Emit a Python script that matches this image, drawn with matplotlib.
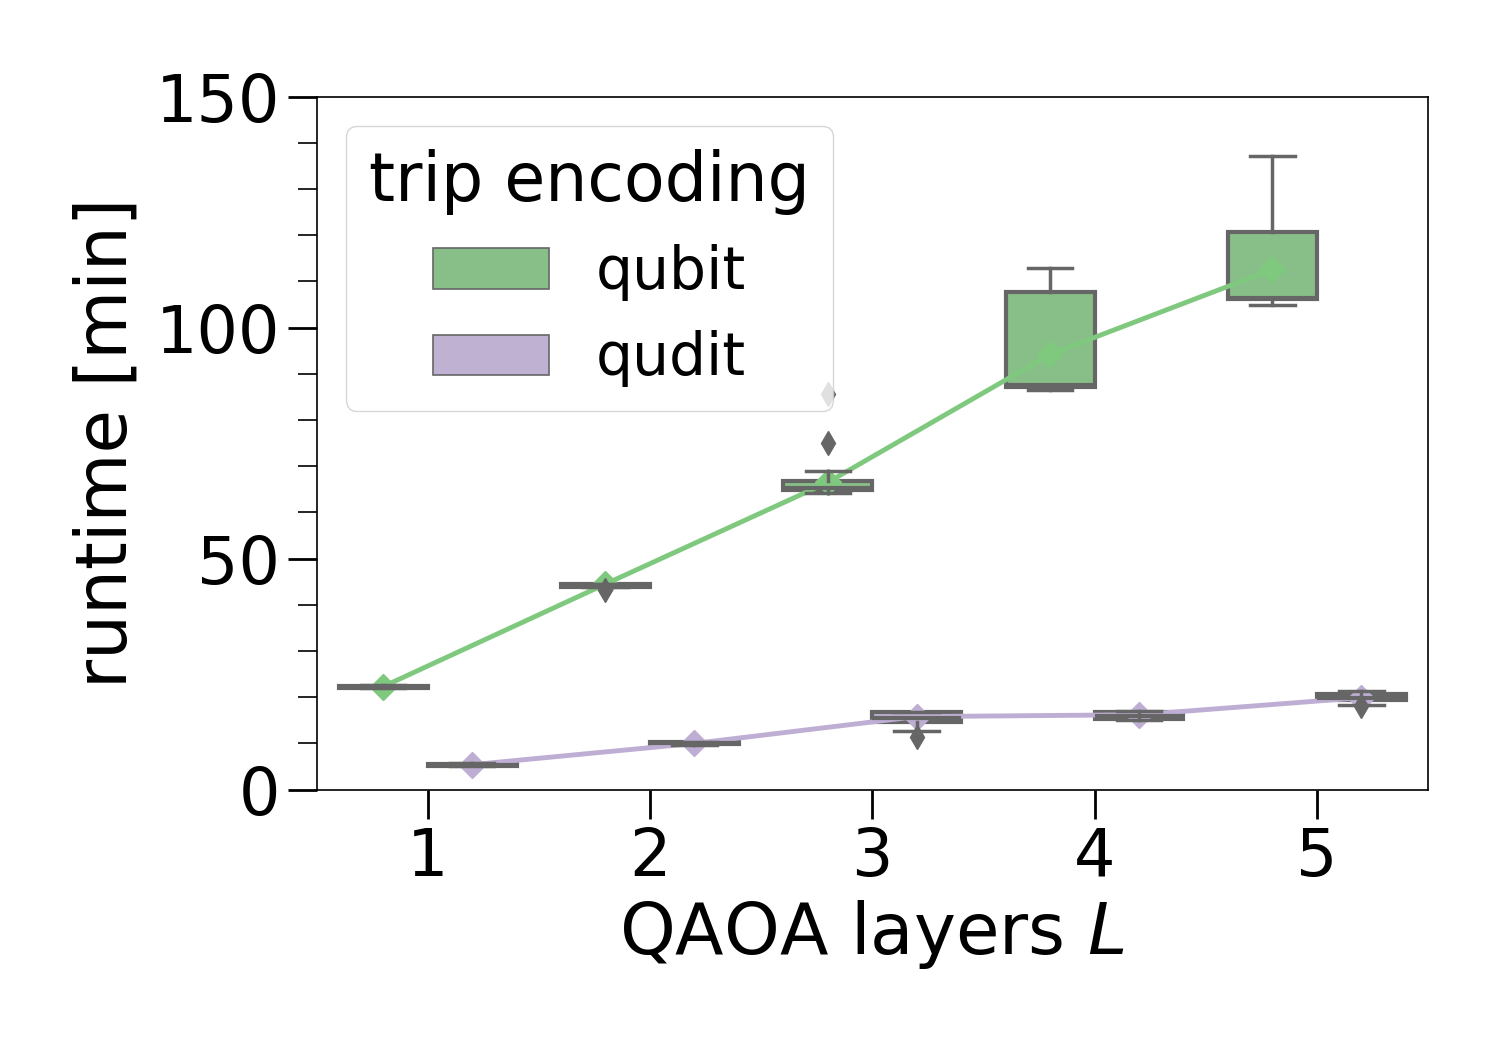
import matplotlib
matplotlib.use("Agg")
import matplotlib.pyplot as plt
from matplotlib.patches import Patch
from matplotlib.ticker import MultipleLocator

# data (runtime in minutes)
layers = [1, 2, 3, 4, 5]
encodings = ["qubit", "qudit"]

qubit_q1 = [22.0, 43.9, 64.9, 87.2, 106.1]
qubit_med = [22.3, 44.2, 65.3, 87.6, 106.3]
qubit_q3 = [22.5, 44.4, 66.9, 107.6, 120.8]
qubit_lo = [22.0, 43.8, 64.3, 86.4, 105.0]
qubit_hi = [22.6, 44.5, 69.0, 113.0, 137.2]
qubit_fliers = [[], [43.1], [75.1, 85.6], [], []]
qubit_mean = [22.3, 44.5, 66.5, 94.2, 112.6]

qudit_q1 = [5.2, 9.8, 14.7, 15.2, 19.3]
qudit_med = [5.4, 10.0, 15.6, 16.0, 19.9]
qudit_q3 = [5.6, 10.2, 16.7, 16.9, 20.8]
qudit_lo = [5.1, 9.7, 12.6, 15.0, 18.4]
qudit_hi = [5.7, 10.3, 16.9, 17.1, 21.4]
qudit_fliers = [[], [], [11.3], [], [18.0]]
qudit_mean = [5.4, 10.0, 15.8, 16.2, 19.9]

line_colors = ["#7fc97f", "#beaed4"]
box_colors = ["#88bf88", "#bfb1d1"]
edge = "#666666"

fig, ax = plt.subplots(figsize=(15, 10.5), dpi=100)
fig.subplots_adjust(left=0.211, right=0.952, top=0.908, bottom=0.248)

series = [
    (qubit_q1, qubit_med, qubit_q3, qubit_lo, qubit_hi, qubit_fliers, qubit_mean),
    (qudit_q1, qudit_med, qudit_q3, qudit_lo, qudit_hi, qudit_fliers, qudit_mean),
]
offsets = [-0.2, 0.2]

for k, (q1, med, q3, lo, hi, fl, mn) in enumerate(series):
    stats = []
    for i in range(len(layers)):
        stats.append(dict(q1=q1[i], med=med[i], q3=q3[i], whislo=lo[i],
                          whishi=hi[i], fliers=fl[i], mean=mn[i]))
    pos = [i + offsets[k] for i in range(len(layers))]
    ax.bxp(stats, positions=pos, widths=0.4, patch_artist=True,
           showmeans=False, manage_ticks=False,
           boxprops=dict(facecolor=box_colors[k], edgecolor=edge, linewidth=3,
                         zorder=1),
           medianprops=dict(color=edge, linewidth=3, zorder=2),
           whiskerprops=dict(color=edge, linewidth=2.5, zorder=2),
           capprops=dict(color=edge, linewidth=2.5, zorder=2),
           flierprops=dict(marker="d", markerfacecolor=edge, markeredgecolor=edge,
                           markersize=12, zorder=2))
    # mean line sits over the box fill but under whiskers / medians
    ax.plot(pos, mn, color=line_colors[k], linewidth=3.5, marker="D",
            markersize=13, zorder=1.5)

ax.set_xlim(-0.5, 4.5)
ax.set_ylim(0, 150)
ax.set_xticks(range(len(layers)))
ax.set_xticklabels([str(l) for l in layers])
ax.yaxis.set_major_locator(MultipleLocator(50))
ax.yaxis.set_minor_locator(MultipleLocator(10))
ax.tick_params(axis="both", which="major", labelsize=47, length=21, width=2, pad=5)
ax.tick_params(axis="y", which="minor", length=14, width=1.2)
for s in ax.spines.values():
    s.set_linewidth(1.2)

ax.set_xlabel("QAOA layers $L$", fontsize=51, labelpad=6)
ax.set_ylabel("runtime [min]", fontsize=51, labelpad=10)

handles = [Patch(facecolor=box_colors[k], edgecolor=edge, linewidth=1.2)
           for k in range(2)]
leg = ax.legend(handles, encodings, title="trip encoding", loc="upper left",
                fontsize=42, title_fontsize=48, framealpha=0.8,
                handlelength=2.0, handleheight=0.7, borderpad=0.4,
                labelspacing=0.5, handletextpad=0.8)
leg.set_zorder(10)

fig.savefig("out.png", dpi=100)
